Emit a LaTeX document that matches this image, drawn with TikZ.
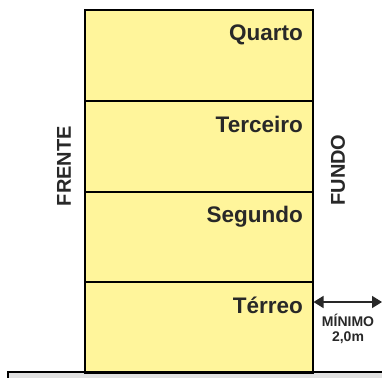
\documentclass[tikz,border=0pt]{standalone}
\usepackage{fontspec}
\setmainfont{Liberation Sans}
\usetikzlibrary{arrows.meta}
\definecolor{wall}{RGB}{255,245,155}
\definecolor{ink}{RGB}{40,40,40}
\definecolor{groundc}{RGB}{225,225,225}
\tikzset{
  floorbox/.style={draw=black, line width=2pt, fill=wall, minimum width=227.5pt, minimum height=91pt, inner sep=0pt, anchor=north west},
  floorlbl/.style={text=ink, font=\bfseries\fontsize{22.5}{26}\selectfont, anchor=base east, inner sep=0pt},
  sidelbl/.style={text=ink, font=\bfseries\fontsize{20}{24}\selectfont, rotate=90, inner sep=0pt},
  smalllbl/.style={text=ink, font=\bfseries\fontsize{14}{16}\selectfont, inner sep=0pt},
}
\begin{document}
\begin{tikzpicture}[x=1pt,y=-1pt]
\useasboundingbox (0,0) rectangle (382,377);
% ground
\fill[groundc] (8,372) rectangle (390,385);
\node[floorbox] (f4) at (84,9) {};
\node[floorbox] (f3) at (84,100) {};
\node[floorbox] (f2) at (84,190.5) {};
\node[floorbox] (f1) at (84,281) {};
\draw[line width=2pt] (8,385) -- (8,372) -- (390,372);
% labels
\node[floorlbl] (l4) at (303,41) {Quarto};
\node[floorlbl] (l3) at (303,132) {Terceiro};
\node[floorlbl] (l2) at (303,222.5) {Segundo};
\node[floorlbl] (l1) at (303,313) {Térreo};
\node[sidelbl] (fr) at (64,166) {FRENTE};
\node[sidelbl] (fu) at (338,170) {FUNDO};
% distance arrow
\coordinate (a1) at (f1.east |- 0,302);
\coordinate (a2) at (382,302);
\draw[ink, line width=1.5pt, {Triangle[length=10pt,width=12pt]}-{Triangle[length=10pt,width=12pt]}] (a1) -- (a2);
\node[smalllbl] (m1) at (348,320) {MÍNIMO};
\node[smalllbl] (m2) at (348,338) {2,0m};
\end{tikzpicture}
\end{document}
